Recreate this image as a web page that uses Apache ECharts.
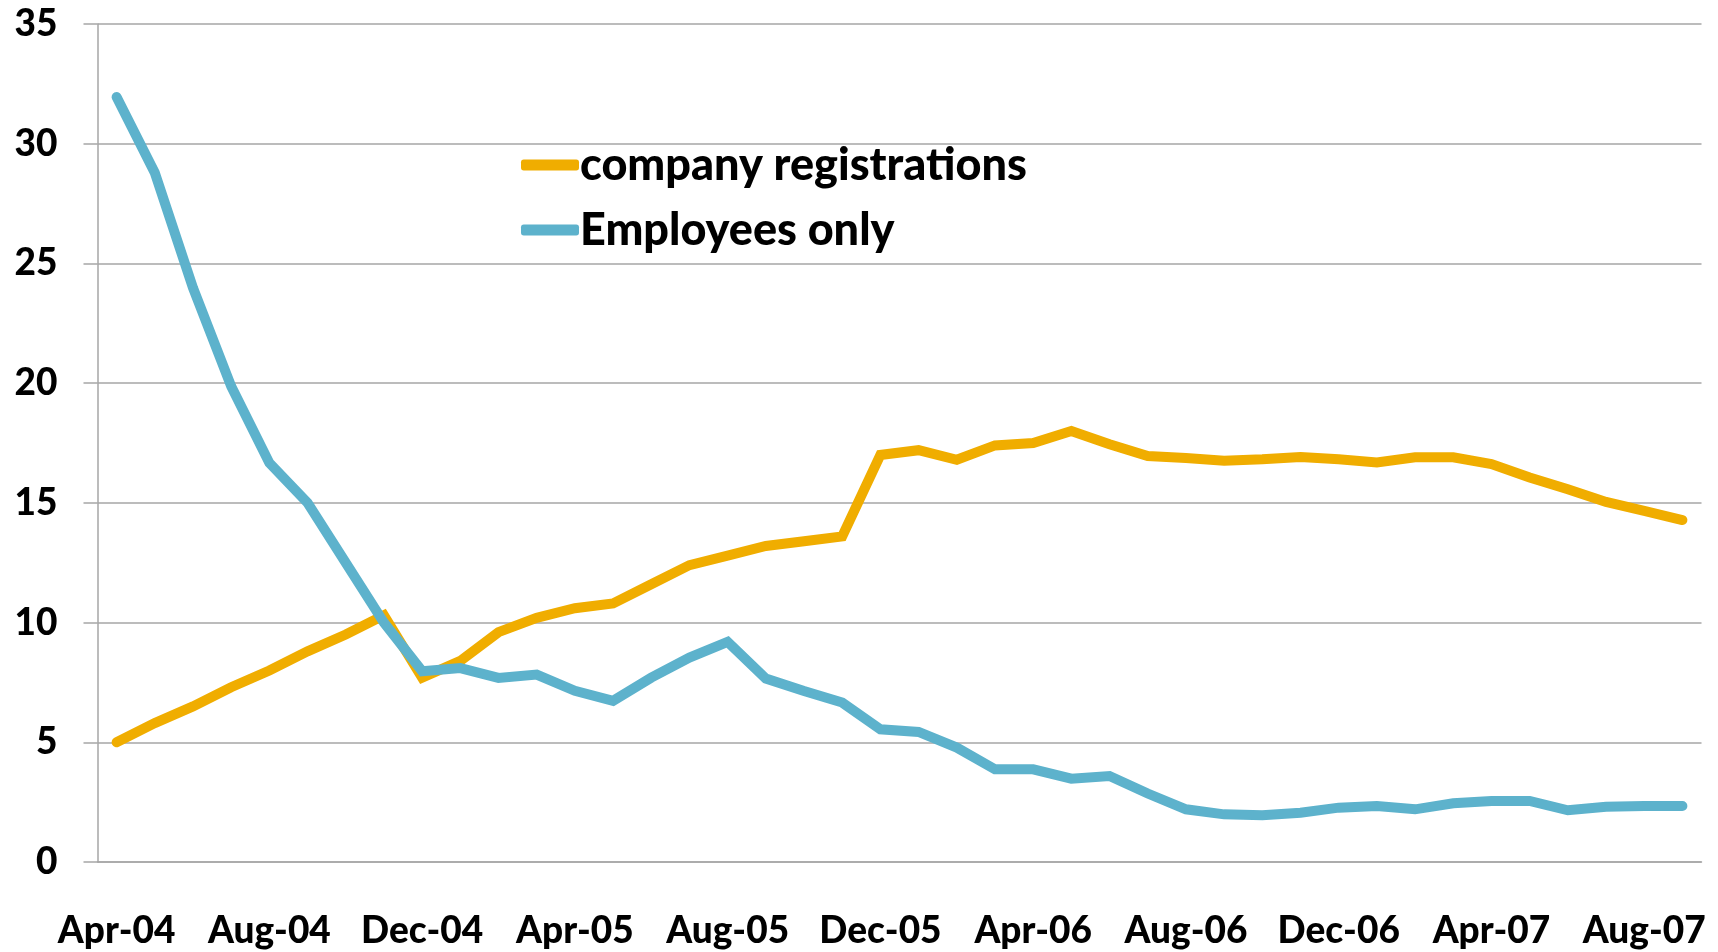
<!DOCTYPE html>
<html>
<head>
<meta charset="utf-8">
<script src="https://cdn.jsdelivr.net/npm/echarts@6/dist/echarts.min.js"></script>
<style>
  html, body { margin: 0; padding: 0; background: #fff; }
  #main { width: 1718px; height: 952px; }
</style>
</head>
<body>
<div id="main"></div>
<script>
// months Apr-04 .. Sep-07
const months = [
  "Apr-04","May-04","Jun-04","Jul-04","Aug-04","Sep-04","Oct-04","Nov-04","Dec-04","Jan-05","Feb-05","Mar-05",
  "Apr-05","May-05","Jun-05","Jul-05","Aug-05","Sep-05","Oct-05","Nov-05","Dec-05","Jan-06","Feb-06","Mar-06",
  "Apr-06","May-06","Jun-06","Jul-06","Aug-06","Sep-06","Oct-06","Nov-06","Dec-06","Jan-07","Feb-07","Mar-07",
  "Apr-07","May-07","Jun-07","Jul-07","Aug-07","Sep-07"
];

const companyRegistrations = [
  5.0, 5.8, 6.5, 7.3, 8.0, 8.8, 9.5, 10.3, 7.7, 8.4, 9.6, 10.2,
  10.6, 10.8, 11.6, 12.4, 12.8, 13.2, 13.4, 13.6, 17.0, 17.2, 16.8, 17.4,
  17.5, 18.0, 17.45, 16.96, 16.87, 16.76, 16.82, 16.92, 16.82, 16.69, 16.9, 16.9,
  16.62, 16.06, 15.57, 15.04, 14.67, 14.28
];

const employeesOnly = [
  31.95, 28.79, 23.98, 19.87, 16.67, 15.0, 12.5, 10.0, 7.97, 8.1, 7.69, 7.83,
  7.15, 6.73, 7.7, 8.54, 9.19, 7.66, 7.14, 6.66, 5.54, 5.43, 4.78, 3.87,
  3.87, 3.48, 3.59, 2.86, 2.2, 1.99, 1.95, 2.06, 2.27, 2.34, 2.2, 2.45,
  2.55, 2.55, 2.16, 2.31, 2.34, 2.34
];

const seriesNames = ["company registrations", "Employees only"];
const seriesColors = ["#f0ad00", "#5db2cc"];

const chart = echarts.init(document.getElementById("main"));
const labelFont = "Lato, 'DejaVu Sans', sans-serif";

let option = {
    animation: false,
    backgroundColor: "#ffffff",
    grid: {
        left: 97.5,
        right: 16.5,
        top: 24,
        bottom: 90
    },
    legend: {
        orient: "vertical",
        left: 516,
        top: 137,
        itemWidth: 58,
        itemHeight: 11,
        itemGap: 19,
        icon: "roundRect",
        textStyle: {
            fontFamily: labelFont,
            fontWeight: 900,
            fontSize: 45,
            lineHeight: 46,
            padding: [0, 0, 0, -4],
            color: "#000"
        },
        data: seriesNames
    },
    xAxis: {
        type: "category",
        data: months,
        boundaryGap: true,
        axisLine: { lineStyle: { color: "#a6a6a6", width: 1.5 } },
        axisTick: { interval: 3, length: 14, lineStyle: { color: "#a6a6a6", width: 1.5 } },
        axisLabel: {
            interval: 3,
            margin: 51,
            fontFamily: labelFont,
            fontWeight: 900,
            fontSize: 37,
            color: "#000"
        },
        splitLine: { show: false }
    },
    yAxis: {
        type: "value",
        min: 0,
        max: 35,
        interval: 5,
        axisLine: { show: true, lineStyle: { color: "#a6a6a6", width: 1.5 } },
        axisTick: { show: true, length: 14, lineStyle: { color: "#a6a6a6", width: 1.5 } },
        axisLabel: {
            margin: 40,
            fontFamily: labelFont,
            fontWeight: 900,
            fontSize: 37,
            color: "#000"
        },
        splitLine: { lineStyle: { color: "#a6a6a6", width: 1.5 } }
    },
    series: [
        {
            name: seriesNames[0],
            type: "line",
            data: companyRegistrations,
            symbol: "none",
            color: seriesColors[0],
            lineStyle: { color: seriesColors[0], width: 10, cap: "round", join: "miter" }
        },
        {
            name: seriesNames[1],
            type: "line",
            data: employeesOnly,
            symbol: "none",
            color: seriesColors[1],
            lineStyle: { color: seriesColors[1], width: 10, cap: "round", join: "miter" }
        }
    ]
};

chart.setOption(option);
</script>
</body>
</html>
